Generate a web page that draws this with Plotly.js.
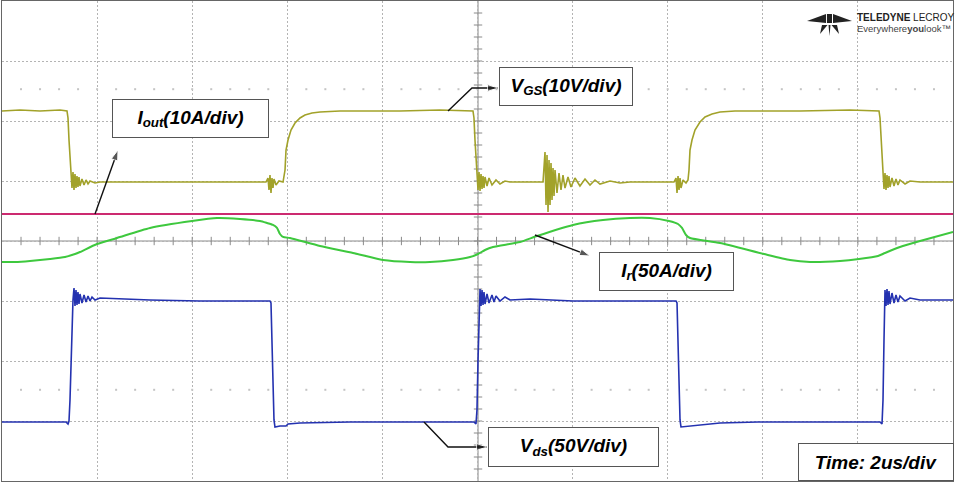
<!DOCTYPE html>
<html>
<head>
<meta charset="utf-8">
<script src="https://cdn.plot.ly/plotly-3.0.1.min.js"></script>
<style>html,body{margin:0;padding:0;background:#fff;}#chart{width:957px;height:484px;}</style>
</head>
<body>
<div id="chart"></div>
<script>
// Time axis in microseconds (2 us/div, 10 divisions); vertical values in screen divisions
const vgsT = [0,0.379,0.799,1.220,1.367,1.388,1.409,1.430,1.451,1.472,1.493,1.514,1.535,1.556,1.577,1.598,1.619,1.640,1.682,1.725,1.767,1.809,1.851,1.956,2.061,3.113,4.164,5.216,5.552,5.594,5.615,5.636,5.657,5.678,5.699,5.720,5.762,5.825,5.910,5.952,5.973,6.015,6.078,6.162,6.267,6.372,6.519,6.688,7.108,8.370,9.211,9.905,9.926,9.947,9.968,9.989,10.011,10.032,10.053,10.074,10.095,10.116,10.137,10.158,10.200,10.242,10.305,10.389,10.473,10.578,10.684,11.378,11.399,11.420,11.441,11.462,11.483,11.504,11.525,11.546,11.567,11.588,11.609,11.630,11.672,11.714,11.756,11.798,11.840,11.903,11.966,12.050,12.155,12.261,12.366,12.471,12.576,12.787,12.997,13.207,14.132,14.175,14.196,14.217,14.238,14.259,14.280,14.322,14.385,14.427,14.448,14.469,14.511,14.574,14.679,14.785,14.932,15.100,15.415,16.782,17.834,18.444,18.465,18.486,18.507,18.528,18.549,18.570,18.591,18.612,18.633,18.654,18.675,18.717,18.759,18.801,18.843,18.885,18.991,19.096,19.306,20.0];
const vgsV = [2.167,2.183,2.167,2.183,2.167,2.050,1.683,1.350,1.150,0.883,1.150,0.850,1.117,0.883,1.083,0.900,1.067,0.917,1.033,0.933,1.017,0.950,1.000,0.967,0.983,0.983,0.983,0.983,0.983,1.050,0.850,1.100,0.800,1.050,0.883,1.033,0.933,1.000,0.983,1.183,1.517,1.683,1.850,1.967,2.050,2.100,2.133,2.150,2.167,2.167,2.183,2.167,2.050,1.683,1.350,1.150,0.850,1.150,0.833,1.117,0.867,1.083,0.883,1.067,0.917,1.050,0.933,1.017,0.950,1.000,0.983,0.983,1.267,1.483,0.600,1.433,0.483,1.350,0.600,1.300,0.683,1.217,0.750,1.183,0.800,1.133,0.850,1.100,0.883,1.067,0.900,1.050,0.917,1.033,0.933,1.017,0.950,1.000,0.967,0.983,0.983,1.050,0.800,1.083,0.850,1.050,0.883,1.017,0.967,1.017,1.183,1.517,1.683,1.850,1.983,2.067,2.117,2.150,2.167,2.167,2.183,2.167,2.050,1.683,1.350,1.150,0.867,1.133,0.850,1.100,0.883,1.083,0.900,1.050,0.917,1.033,0.933,1.017,0.950,1.000,0.983,0.983];

const ioutT = [0,2.5,5.0,7.5,10.0,12.5,15.0,17.5,20.0];
const ioutV = [0.45,0.45,0.45,0.45,0.45,0.45,0.45,0.45,0.45];

const irT = [0,0.273,0.589,1.009,1.325,1.535,1.640,1.998,2.419,3.113,3.996,4.522,5.005,5.426,5.573,5.699,5.783,5.846,5.910,6.057,6.688,7.382,8.013,8.580,9.001,9.485,9.843,10.011,10.158,10.326,10.894,11.251,12.008,12.639,13.207,13.628,14.027,14.217,14.301,14.385,14.469,15.100,16.025,16.572,16.993,17.624,18.023,18.423,18.570,18.885,19.306,20.0];
const irV = [-0.350,-0.350,-0.333,-0.300,-0.267,-0.217,-0.183,-0.050,0.050,0.217,0.333,0.383,0.367,0.333,0.300,0.267,0.217,0.117,0.067,0.050,-0.083,-0.200,-0.317,-0.350,-0.350,-0.317,-0.267,-0.217,-0.150,-0.100,-0.017,0.083,0.267,0.350,0.383,0.383,0.333,0.283,0.217,0.100,0.050,-0.033,-0.217,-0.317,-0.350,-0.333,-0.300,-0.250,-0.200,-0.100,0.000,0.150];

const vdsT = [0,0.589,1.346,1.388,1.409,1.430,1.451,1.472,1.493,1.514,1.535,1.556,1.577,1.598,1.619,1.640,1.682,1.725,1.767,1.809,1.851,1.893,1.956,2.061,2.482,3.113,4.164,5.216,5.636,5.657,5.678,5.699,5.720,5.741,5.846,5.973,6.015,6.267,7.319,8.370,9.926,9.968,9.989,10.011,10.032,10.053,10.074,10.095,10.116,10.137,10.158,10.200,10.242,10.305,10.347,10.389,10.473,10.578,10.684,11.104,12.008,13.207,14.175,14.196,14.217,14.238,14.259,14.280,14.469,14.679,15.100,15.899,16.782,18.465,18.507,18.528,18.549,18.570,18.591,18.612,18.633,18.654,18.675,18.717,18.759,18.801,18.843,18.885,18.991,19.096,19.306,20.0];
const vdsV = [-3.017,-3.017,-3.017,-3.050,-3.000,-2.650,-1.983,-1.483,-0.983,-0.783,-1.083,-0.817,-1.067,-0.850,-1.050,-0.883,-1.033,-0.900,-1.017,-0.917,-1.000,-0.933,-0.983,-0.950,-0.967,-0.983,-1.000,-1.000,-1.000,-1.033,-1.650,-2.483,-2.983,-3.100,-3.083,-3.083,-3.050,-3.033,-3.017,-3.017,-3.017,-3.050,-2.817,-1.983,-1.150,-0.800,-1.083,-0.817,-1.067,-0.850,-1.050,-0.883,-1.033,-0.900,-1.017,-0.917,-1.000,-0.933,-0.983,-0.967,-1.000,-1.000,-1.000,-1.033,-1.650,-2.483,-2.983,-3.100,-3.083,-3.067,-3.033,-3.017,-3.017,-3.017,-3.050,-2.650,-1.650,-0.817,-1.083,-0.800,-1.067,-0.833,-1.050,-0.867,-1.033,-0.900,-1.017,-0.917,-1.000,-0.950,-0.983,-0.983];

const labelIout = '<b><i>I<sub>out</sub>(10A/div)</i></b>';
const labelVgs = '<b><i>V<sub>GS</sub>(10V/div)</i></b>';
const labelIr = '<b><i>I<sub>r</sub>(50A/div)</i></b>';
const labelVds = '<b><i>V<sub>ds</sub>(50V/div)</i></b>';
const labelTime = '<b><i>Time: 2us/div</i></b>';

// graticule scaffolding (minor ticks, 5 per division)
const minorX = [], minorY = [], axisY0 = [], axisX0 = [];
for (let k = 1; k < 50; k++) { minorX.push(k * 0.4); axisY0.push(0); }
for (let k = -19; k < 20; k++) { minorY.push(k * 0.2); axisX0.push(10.011); }
const dotRowA = minorX.map(() => 2.53), dotRowB = minorX.map(() => -2.48);

// callout arrows (tail ... head)
const callouts = [
  {x: [1.956, 2.440], y: [0.45, 1.517]},
  {x: [9.380, 9.884, 10.431], y: [2.167, 2.550, 2.550]},
  {x: [11.209, 12.366], y: [0.100, -0.250]},
  {x: [8.875, 9.380, 10.200], y: [-3.017, -3.433, -3.433]}
];

const traces = [
  {x: minorX, y: dotRowA, mode: 'markers', marker: {symbol: 'square', size: 2, color: '#c4c4c4'}, hoverinfo: 'skip'},
  {x: minorX, y: dotRowB, mode: 'markers', marker: {symbol: 'square', size: 2, color: '#c4c4c4'}, hoverinfo: 'skip'},
  {x: minorX, y: axisY0, mode: 'markers', marker: {symbol: 'line-ns', size: 6, line: {width: 1, color: '#8a8a8a'}}, hoverinfo: 'skip'},
  {x: axisX0, y: minorY, mode: 'markers', marker: {symbol: 'line-ew', size: 6, line: {width: 1, color: '#8a8a8a'}}, hoverinfo: 'skip'},
  {x: ioutT, y: ioutV, mode: 'lines', line: {color: '#cc2a70', width: 2}, name: 'Iout'},
  {x: irT, y: irV, mode: 'lines', line: {color: '#3ec83e', width: 2, shape: 'spline', smoothing: 0.6}, name: 'Ir'},
  {x: vgsT, y: vgsV, mode: 'lines', line: {color: '#a2a22a', width: 1.6}, name: 'VGS'},
  {x: vdsT, y: vdsV, mode: 'lines', line: {color: '#2432b0', width: 1.6}, name: 'Vds'}
];
callouts.forEach(c => {
  traces.push({x: c.x, y: c.y, mode: 'lines+markers', hoverinfo: 'skip', cliponaxis: false,
    line: {color: '#111', width: 1.4},
    marker: {symbol: 'arrow', angleref: 'previous', color: '#111',
      size: c.x.map((_, i) => i === c.x.length - 1 ? 11 : 0)}});
});

const boxFont = {family: 'Liberation Sans, Arial, sans-serif', size: 19, color: '#000'};
function box(text, x, y, w, h) {
  return {text: text, x: x, y: y, xref: 'x', yref: 'y', showarrow: false, width: w, height: h,
    bgcolor: '#fff', bordercolor: '#555', borderwidth: 1, borderpad: 0, font: boxFont, align: 'center', valign: 'middle'};
}

const annotations = [
  box(labelIout, 3.964, 2.042, 155, 37),
  box(labelVgs, 11.861, 2.575, 132, 37),
  box(labelIr, 13.975, -0.508, 133, 37),
  box(labelVds, 12.019, -3.433, 169, 38),
  box(labelTime, 18.381, -3.683, 154, 36),
  {text: '<b>TELEDYNE</b> LECROY', x: 17.939, y: 3.725, xref: 'x', yref: 'y', xanchor: 'left', yanchor: 'middle', showarrow: false,
    font: {family: 'Liberation Sans, Arial', size: 10, color: '#222'}},
  {text: 'Everywhere<b>you</b>look\u2122', x: 17.939, y: 3.550, xref: 'x', yref: 'y', xanchor: 'left', yanchor: 'middle', showarrow: false,
    font: {family: 'Liberation Sans, Arial', size: 9.5, color: '#444'}}
];

function P(pts) { return 'M' + pts.map(p => p[0] + ',' + p[1]).join(' L') + ' Z'; }
const logoFill = {fillcolor: '#222', line: {width: 0}, xref: 'x', yref: 'y', type: 'path'};
const shapes = [
  {type: 'line', xref: 'x', yref: 'y', x0: 10.011, x1: 10.011, y0: -4, y1: 4, line: {color: '#8a8a8a', width: 1}, layer: 'below'},
  {type: 'line', xref: 'x', yref: 'y', x0: 0, x1: 20, y0: 0, y1: 0, line: {color: '#8a8a8a', width: 1}, layer: 'below'},
  // logo
  Object.assign({path: P([[16.930,3.667],[17.330,3.783],[17.330,3.633]])}, logoFill),
  Object.assign({path: P([[17.350,3.783],[17.455,3.783],[17.455,3.633],[17.350,3.633]])}, logoFill),
  Object.assign({path: P([[17.876,3.667],[17.476,3.783],[17.476,3.633]])}, logoFill),
  Object.assign({path: P([[17.245,3.600],[17.361,3.600],[17.203,3.450]])}, logoFill),
  Object.assign({path: P([[17.382,3.600],[17.424,3.600],[17.403,3.417]])}, logoFill),
  Object.assign({path: P([[17.445,3.600],[17.561,3.600],[17.603,3.450]])}, logoFill)
];

const axisCommon = {showticklabels: false, ticks: '', zeroline: false, showline: true, mirror: true,
  linecolor: '#666', linewidth: 1, gridcolor: '#b4b4b4', griddash: '2px,2px', gridwidth: 1, fixedrange: true};

const layout = {
  width: 957, height: 484,
  margin: {l: 2, r: 4, t: 1, b: 3, pad: 0},
  paper_bgcolor: '#fff', plot_bgcolor: '#fff',
  showlegend: false, hovermode: false,
  xaxis: Object.assign({range: [0, 20], dtick: 2, tick0: 0}, axisCommon),
  yaxis: Object.assign({range: [-4, 4], dtick: 1, tick0: 0}, axisCommon),
  annotations: annotations,
  shapes: shapes
};

Plotly.newPlot('chart', traces, layout, {staticPlot: true, displayModeBar: false});
</script>
</body>
</html>
